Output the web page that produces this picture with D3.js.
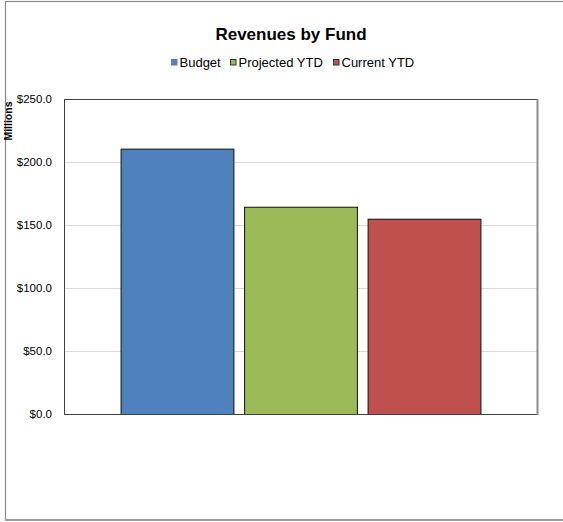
<!DOCTYPE html>
<html>
<head>
<meta charset="utf-8">
<script src="https://cdn.jsdelivr.net/npm/d3@7"></script>
<style>
  html, body { margin: 0; padding: 0; background: #fff; }
  svg { display: block; font-family: "Liberation Sans", Arial, sans-serif; }
</style>
</head>
<body>
<script>
// Revenues by fund, in millions of dollars
const seriesNames = ["Budget", "Projected YTD", "Current YTD"];
const seriesValues = [210.6, 164.5, 155.0];
const seriesColors = ["#4F81BD", "#9BBB59", "#C0504D"];
const yTicks = [0, 50, 100, 150, 200, 250];

const W = 563, H = 522;
const plot = { left: 64, right: 537, top: 99, bottom: 414 };

const svg = d3.select("body").append("svg")
  .attr("width", W).attr("height", H);

// chart frame
svg.append("rect")
  .attr("x", 5.5).attr("y", 1.5).attr("width", W + 10).attr("height", 518)
  .attr("fill", "#fff").attr("stroke", "#8a8a8a").attr("stroke-width", 1.2);
svg.append("line")
  .attr("x1", 5).attr("x2", W).attr("y1", 520).attr("y2", 520)
  .attr("stroke", "#a0a0a0").attr("stroke-width", 2);

const y = d3.scaleLinear().domain([0, 250]).range([plot.bottom, plot.top]);
const x = d3.scaleBand().domain(seriesNames)
  .range([plot.left, plot.right])
  .paddingInner(0.0865).paddingOuter(0.458);

// gridlines
svg.append("g")
  .attr("transform", `translate(${plot.left},0)`)
  .call(d3.axisLeft(y).tickValues(yTicks).tickSize(-(plot.right - plot.left)).tickFormat(""))
  .call(g => g.select(".domain").remove())
  .call(g => g.selectAll("line").attr("stroke", "#d9d9d9").attr("stroke-width", 1)
    .attr("shape-rendering", "crispEdges"));

// y axis labels
svg.append("g")
  .attr("transform", `translate(${plot.left - 12},0)`)
  .call(d3.axisLeft(y).tickValues(yTicks).tickSize(0).tickPadding(0)
    .tickFormat(d => "$" + d.toFixed(1)))
  .call(g => g.select(".domain").remove())
  .call(g => g.selectAll("text").attr("font-size", "11.5px").attr("fill", "#000")
    .attr("font-family", "Liberation Sans, Arial, sans-serif"));

// bars
svg.append("g").selectAll("rect")
  .data(seriesNames.map((n, i) => ({ name: n, value: seriesValues[i], color: seriesColors[i] })))
  .join("rect")
  .attr("x", d => x(d.name) + 0.5)
  .attr("y", d => y(d.value) + 0.5)
  .attr("width", x.bandwidth())
  .attr("height", d => y(0) - y(d.value))
  .attr("fill", d => d.color)
  .attr("stroke", "#111").attr("stroke-width", 1);

// plot area border
svg.append("line").attr("x1", plot.left).attr("x2", plot.right)
  .attr("y1", plot.top + 0.5).attr("y2", plot.top + 0.5).attr("stroke", "#404040");
svg.append("line").attr("x1", plot.left + 0.5).attr("x2", plot.left + 0.5)
  .attr("y1", plot.top).attr("y2", plot.bottom + 1).attr("stroke", "#404040");
svg.append("line").attr("x1", plot.left).attr("x2", plot.right)
  .attr("y1", plot.bottom + 0.5).attr("y2", plot.bottom + 0.5).attr("stroke", "#404040");
svg.append("line").attr("x1", plot.right + 0.5).attr("x2", plot.right + 0.5)
  .attr("y1", plot.top).attr("y2", plot.bottom + 1).attr("stroke", "#8c8c8c").attr("stroke-width", 2);

// title
svg.append("text")
  .attr("x", 291).attr("y", 40)
  .attr("text-anchor", "middle")
  .attr("font-size", "17px").attr("font-weight", "bold")
  .text("Revenues by Fund");

// axis unit label
svg.append("text")
  .attr("transform", "translate(12,121) rotate(-90)")
  .attr("text-anchor", "middle")
  .attr("font-size", "10.5px").attr("font-weight", "bold")
  .text("Millions");

// legend
const legendX = [171, 230, 333];
const legend = svg.append("g").selectAll("g")
  .data(seriesNames.map((n, i) => ({ name: n, color: seriesColors[i], x: legendX[i] })))
  .join("g")
  .attr("transform", d => `translate(${d.x},59)`);
legend.append("rect")
  .attr("x", 0.5).attr("y", 0.5).attr("width", 5.5).attr("height", 5.5)
  .attr("fill", d => d.color)
  .attr("stroke", (d, i) => i === 0 ? d.color : "#333").attr("stroke-width", 1);
legend.append("text")
  .attr("x", 8.5).attr("y", 8)
  .attr("font-size", "13px")
  .text(d => d.name);
</script>
</body>
</html>
